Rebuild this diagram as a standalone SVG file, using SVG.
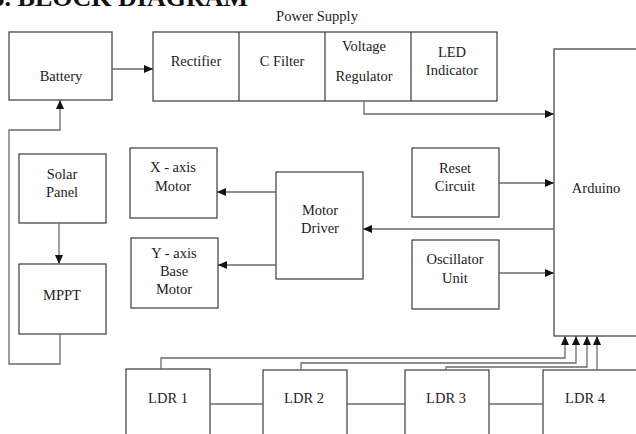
<svg xmlns="http://www.w3.org/2000/svg" width="636" height="434" viewBox="0 0 636 434">
<style>
.box{fill:#fff;stroke:#3a3a3a;stroke-width:1.2}
.wire{fill:none;stroke:#6a6a6a;stroke-width:1.3}
.t{font-family:"Liberation Serif","Times New Roman",serif;font-size:14.5px;fill:#222;text-anchor:middle}
.title{font-family:"Liberation Serif","Times New Roman",serif;font-size:26px;font-weight:bold;fill:#111;text-anchor:end}
</style>
<defs>
<marker id="ah" markerUnits="userSpaceOnUse" markerWidth="9" markerHeight="8" refX="9" refY="4" orient="auto">
<path d="M0,0 L9,4 L0,8 z" fill="#111"/>
</marker>
</defs>
<rect width="636" height="434" fill="#fff"/>
<text class="title" x="248" y="6">5. BLOCK DIAGRAM</text>

<g id="battery"><rect class="box" x="9" y="32" width="103" height="68"/><text class="t" x="61" y="81">Battery</text></g>

<g id="power-supply">
<text class="t" x="317" y="21">Power Supply</text>
<rect class="box" x="153" y="32" width="344" height="69"/>
<line class="box" x1="239" y1="32" x2="239" y2="101"/>
<line class="box" x1="325" y1="32" x2="325" y2="101"/>
<line class="box" x1="411" y1="32" x2="411" y2="101"/>
<text class="t" x="196" y="66">Rectifier</text>
<text class="t" x="282" y="66">C Filter</text>
<text class="t" x="364" y="51">Voltage</text>
<text class="t" x="364" y="81">Regulator</text>
<text class="t" x="452" y="57">LED</text>
<text class="t" x="452" y="75">Indicator</text>
</g>

<g id="arduino"><rect class="box" x="554" y="49" width="100" height="287"/><text class="t" x="596" y="193">Arduino</text></g>

<g id="reset"><rect class="box" x="412" y="148" width="87" height="69"/><text class="t" x="455" y="173">Reset</text><text class="t" x="455" y="191">Circuit</text></g>

<g id="oscillator"><rect class="box" x="412" y="240" width="87" height="69"/><text class="t" x="455" y="264">Oscillator</text><text class="t" x="455" y="283">Unit</text></g>

<g id="motor-driver"><rect class="box" x="276" y="172" width="87" height="107"/><text class="t" x="320" y="215">Motor</text><text class="t" x="320" y="233">Driver</text></g>

<g id="x-motor"><rect class="box" x="130" y="148" width="87" height="70"/><text class="t" x="173" y="172">X - axis</text><text class="t" x="173" y="191">Motor</text></g>

<g id="y-motor"><rect class="box" x="131" y="238" width="87" height="70"/><text class="t" x="174" y="258">Y - axis</text><text class="t" x="174" y="276">Base</text><text class="t" x="174" y="294">Motor</text></g>

<g id="solar"><rect class="box" x="19" y="154" width="87" height="69"/><text class="t" x="62" y="179">Solar</text><text class="t" x="62" y="197">Panel</text></g>

<g id="mppt"><rect class="box" x="19" y="264" width="87" height="70"/><text class="t" x="62" y="300">MPPT</text></g>

<g id="ldr1"><rect class="box" x="126" y="369" width="84" height="80"/><text class="t" x="168" y="403">LDR 1</text></g>
<g id="ldr2"><rect class="box" x="263" y="370" width="84" height="80"/><text class="t" x="304" y="403">LDR 2</text></g>
<g id="ldr3"><rect class="box" x="405" y="370" width="84" height="80"/><text class="t" x="446" y="403">LDR 3</text></g>
<g id="ldr4"><rect class="box" x="543" y="370" width="110" height="80"/><text class="t" x="585" y="403">LDR 4</text></g>

<g id="connectors">
<line class="wire" x1="112" y1="69" x2="153" y2="69" marker-end="url(#ah)"/>
<polyline class="wire" points="364,101 364,114 554,114" marker-end="url(#ah)"/>
<line class="wire" x1="499" y1="183" x2="554" y2="183" marker-end="url(#ah)"/>
<line class="wire" x1="499" y1="273" x2="554" y2="273" marker-end="url(#ah)"/>
<line class="wire" x1="554" y1="229" x2="363" y2="229" marker-end="url(#ah)"/>
<line class="wire" x1="276" y1="192" x2="217" y2="192" marker-end="url(#ah)"/>
<line class="wire" x1="276" y1="265" x2="218" y2="265" marker-end="url(#ah)"/>
<line class="wire" x1="59" y1="223" x2="59" y2="264" marker-end="url(#ah)"/>
<polyline class="wire" points="60,334 60,364 9,364 9,130 60,130 60,100" marker-end="url(#ah)"/>
<line class="wire" x1="210" y1="404" x2="263" y2="404"/>
<line class="wire" x1="347" y1="404" x2="405" y2="404"/>
<line class="wire" x1="489" y1="404" x2="543" y2="404"/>
<polyline class="wire" points="161,369 161,358 565,358 565,336" marker-end="url(#ah)"/>
<polyline class="wire" points="301,370 301,363 576,363 576,336" marker-end="url(#ah)"/>
<polyline class="wire" points="446,370 446,367 587,367 587,336" marker-end="url(#ah)"/>
<line class="wire" x1="597" y1="370" x2="597" y2="336" marker-end="url(#ah)"/>
</g>
</svg>
